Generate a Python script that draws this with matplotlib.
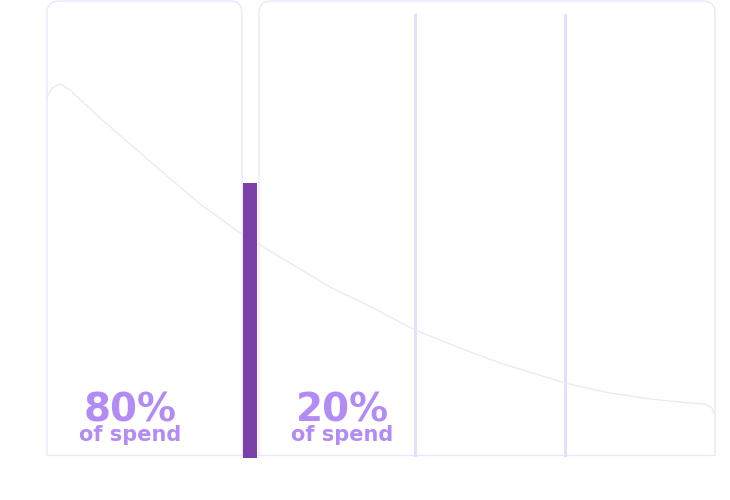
import matplotlib.pyplot as plt
from matplotlib.patches import FancyBboxPatch, Rectangle

# --- data ---
shares = [80, 20]
share_labels = ["of spend", "of spend"]
curve_x = [47, 52, 60, 70, 100, 130, 160, 200, 243, 290, 330, 375, 415, 460, 500, 565, 610, 650, 690, 705, 712, 715]
curve_y = [97, 88, 84, 90, 118, 144, 170, 204, 235, 263, 287, 309, 330, 348, 363, 383, 393, 399, 403, 404, 408, 415]
divider_x = [415, 565]
bar_top = 183

LINE = "#ebe6fb"
TEXT = "#b28cf4"
BAR = "#7a40a8"

fig = plt.figure(figsize=(7.3, 5), dpi=100)
ax = fig.add_axes([0, 0, 1, 1])
ax.set_xlim(0, 730)
ax.set_ylim(500, 0)
ax.axis("off")

# --- panels (rounded top, flat bottom) ---
for x0, x1 in [(47, 242), (259, 715)]:
    ax.add_patch(FancyBboxPatch((x0, 1), x1 - x0, 490, boxstyle="round,pad=0,rounding_size=12",
                                fill=False, ec=LINE, lw=1, zorder=1))
ax.add_patch(Rectangle((0, 455), 730, 50, color="white", zorder=2))
ax.plot([47, 715], [454.5, 454.5], color=LINE, lw=1, zorder=3)

for x in divider_x:
    ax.plot([x, x], [15, 455], color="#e6dffa", lw=2.2, zorder=3)

ax.plot(curve_x, curve_y, color="#ece8f8", lw=1, zorder=3)

# --- divider bar ---
ax.bar(250, 458 - bar_top, bottom=bar_top, width=14, color=BAR, zorder=4)

# --- labels ---
for xc, s, lab in zip([130, 342], shares, share_labels):
    ax.text(xc, 421, f"{s}%", ha="center", va="baseline", color=TEXT,
            fontsize=28, fontweight="bold", family="DejaVu Sans", zorder=5)
    ax.text(xc, 441, lab, ha="center", va="baseline", color=TEXT,
            fontsize=15, fontweight="bold", family="DejaVu Sans", zorder=5)

fig.savefig("out.png", dpi=100)
